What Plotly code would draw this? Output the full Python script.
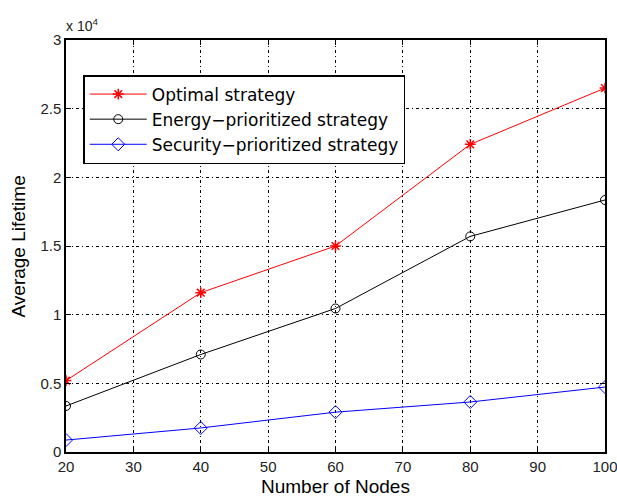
import plotly.graph_objects as go

nodes = [20, 40, 60, 80, 100]
optimal = [5200, 11600, 15000, 22400, 26500]
energy = [3350, 7100, 10450, 15700, 18350]
security = [870, 1750, 2900, 3640, 4730]
scale = 1e4
y_ticks = [0, 0.5, 1, 1.5, 2, 2.5, 3]
y_tick_labels = ["0", "0.5", "1", "1.5", "2", "2.5", "3"]
x_ticks = [20, 30, 40, 50, 60, 70, 80, 90, 100]

FONT = "Liberation Sans, Arial"

fig = go.Figure()
fig.add_trace(go.Scatter(x=nodes, y=[v / scale for v in optimal], name="Optimal strategy",
                         mode="lines+markers", line=dict(color="red", width=1),
                         marker=dict(symbol="asterisk-open", size=9, color="red", line=dict(color="red", width=1.5))))
fig.add_trace(go.Scatter(x=nodes, y=[v / scale for v in energy], name="Energy\u2212prioritized strategy",
                         mode="lines+markers", line=dict(color="black", width=1),
                         marker=dict(symbol="circle-open", size=9, color="black", line=dict(color="black", width=1))))
fig.add_trace(go.Scatter(x=nodes, y=[v / scale for v in security], name="Security\u2212prioritized strategy",
                         mode="lines+markers", line=dict(color="blue", width=1),
                         marker=dict(symbol="diamond-open", size=10, color="blue", line=dict(color="blue", width=1))))

axis_common = dict(showline=True, linecolor="black", linewidth=1.5, mirror="ticks",
                   ticks="inside", ticklen=5, tickcolor="black", automargin=False,
                   ticklabeloverflow="allow",
                   showgrid=True, gridcolor="black", griddash="3px,3px,1px,3px", gridwidth=1,
                   zeroline=False, tickfont=dict(family=FONT, size=15, color="#222"))

fig.update_xaxes(range=[20, 100], tickvals=x_ticks, **axis_common)
fig.update_yaxes(range=[0, 3], tickvals=y_ticks, ticktext=y_tick_labels, **axis_common)

fig.add_annotation(x=0.5, y=0, xref="paper", yref="paper", xanchor="center", yanchor="top",
                   text="Number of Nodes", showarrow=False, yshift=-22,
                   font=dict(family=FONT, size=19, color="black"))
fig.add_annotation(x=0, y=0.5, xref="paper", yref="paper", xanchor="right", yanchor="middle",
                   text="Average Lifetime", showarrow=False, textangle=-90, xshift=-36,
                   font=dict(family=FONT, size=19, color="black"))
fig.add_annotation(x=0, y=1, xref="paper", yref="paper", xanchor="left", yanchor="bottom",
                   text="x 10<sup>4</sup>", showarrow=False, xshift=-2, yshift=4,
                   font=dict(family=FONT, size=14, color="#222"))

fig.update_layout(width=617, height=496, margin=dict(l=66, r=12, t=40, b=44),
                  plot_bgcolor="white", paper_bgcolor="white",
                  legend=dict(x=0.032, y=0.915, xanchor="left", yanchor="top",
                              bgcolor="white", bordercolor="black", borderwidth=1.5,
                              font=dict(family="DejaVu Sans", size=17, color="black"),
                              itemwidth=57, tracegroupgap=0),
                  showlegend=True)

fig.write_html("out.html")
